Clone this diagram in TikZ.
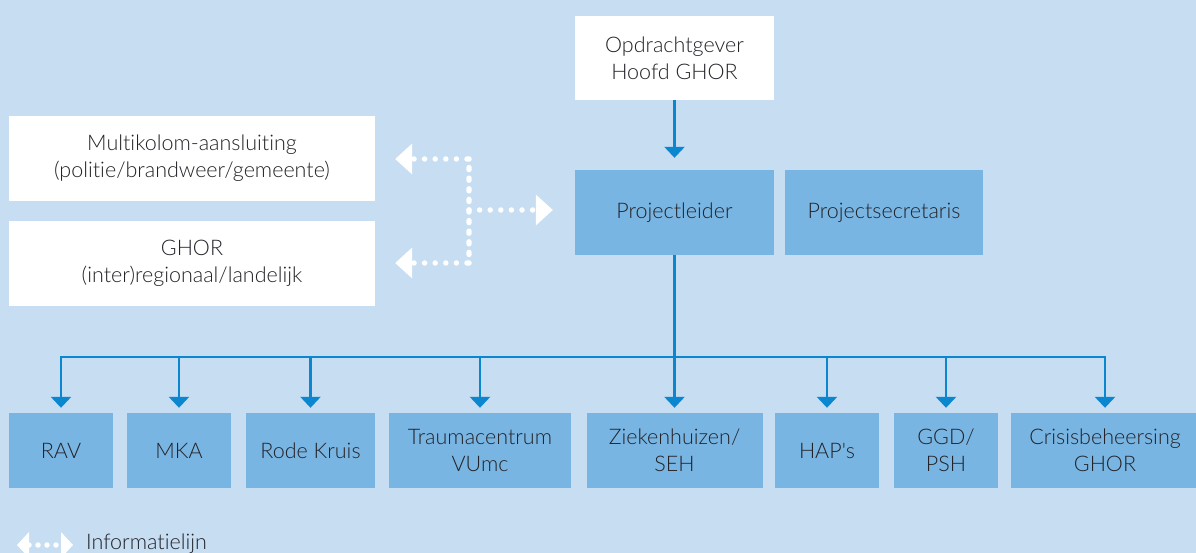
\documentclass[tikz,border=0pt]{standalone}
\usepackage{fontspec}
\setmainfont{Lato Light}[Ligatures={CommonOff,TeXOff}]
\usetikzlibrary{arrows.meta}
\definecolor{bg}{HTML}{C6DDF2}
\definecolor{boxblue}{HTML}{79B5E2}
\definecolor{arrowblue}{HTML}{0A87CF}
\definecolor{txt}{HTML}{222228}
\tikzset{
  base/.style={rectangle, inner sep=0pt, align=center, text=txt, font=\fontsize{21.5}{27}\selectfont},
  wbox/.style={base, fill=white},
  lbox/.style={base, fill=boxblue},
  conn/.style={draw=arrowblue, line width=2.6pt, -{Triangle[width=20pt,length=11pt]}, shorten >=5pt},
  bus/.style={draw=arrowblue, line width=2.6pt},
  info/.style={draw=white, line width=5.5pt, line cap=round, dash pattern=on 0pt off 10.6pt},
  infotip/.style={-{Triangle[width=31pt,length=17pt,line width=0pt]}},
}
\begin{document}
\begin{tikzpicture}[x=1pt,y=-1pt]
\fill[bg] (0,0) rectangle (1196,553);
\useasboundingbox (0,0) rectangle (1196,553);

\node[wbox, minimum width=199pt, minimum height=84pt] (opdr) at (674.5,58) {Opdrachtgever\\Hoofd GHOR};
\node[lbox, minimum width=199pt, minimum height=85pt] (proj) at (674.5,212.5) {Projectleider};
\node[lbox, minimum width=198pt, minimum height=85pt] (secr) at (884,212.5) {Projectsecretaris};
\node[wbox, minimum width=366pt, minimum height=85pt] (multi) at (192,158.5) {Multikolom-aansluiting\\(politie/brandweer/gemeente)};
\node[wbox, minimum width=366pt, minimum height=85pt] (ghor) at (192,263.5) {GHOR\\(inter)regionaal/landelijk};

\node[lbox, minimum width=104pt, minimum height=75pt] (rav) at (61,450.5) {RAV};
\node[lbox, minimum width=104pt, minimum height=75pt] (mka) at (179,450.5) {MKA};
\node[lbox, minimum width=129pt, minimum height=75pt] (rk) at (310.5,450.5) {Rode Kruis};
\node[lbox, minimum width=182pt, minimum height=75pt] (trauma) at (480,450.5) {Traumacentrum\\VUmc};
\node[lbox, minimum width=176pt, minimum height=75pt] (zh) at (674.5,450.5) {Ziekenhuizen/\\SEH};
\node[lbox, minimum width=104pt, minimum height=75pt] (hap) at (827,450.5) {HAP's};
\node[lbox, minimum width=104pt, minimum height=75pt] (ggd) at (946,450.5) {GGD/\\PSH};
\node[lbox, minimum width=188pt, minimum height=75pt] (crisis) at (1105,450.5) {Crisisbeheersing\\GHOR};

% blue connectors
\draw[conn, shorten >=12pt] (opdr.south) -- (proj.north);
\coordinate (busc) at (674.5,357);
\draw[bus] (proj.south) -- (busc);
\draw[bus, line cap=rect] (rav.north |- busc) -- (crisis.north |- busc);
\foreach \n in {rav,mka,rk,trauma,zh,hap,ggd,crisis}
  \draw[conn] (\n.north |- busc) -- (\n.north);

% information lines
\coordinate (jt) at (469,159);
\coordinate (jm) at (469,210);
\coordinate (jb) at (469,263);
\draw[info, infotip, shorten >=20pt] (jb) -- (jt) -- (jt -| multi.east);
\draw[info, infotip, shorten >=20pt] (jt) -- (jb) -- (jb -| ghor.east);
\draw[info, infotip, shorten >=22pt] (jm) -- (jm -| proj.west);

% legend
\coordinate (la) at (17,545);
\coordinate (lb) at (73,545);
\draw[info, dash pattern=on 0pt off 9pt, {Triangle[width=26pt,length=12pt,line width=0pt]}-{Triangle[width=26pt,length=12pt,line width=0pt]}] (la) -- (lb);
\node[base, anchor=base west] (legtxt) at (86,549) {Informatielijn};
\end{tikzpicture}
\end{document}
